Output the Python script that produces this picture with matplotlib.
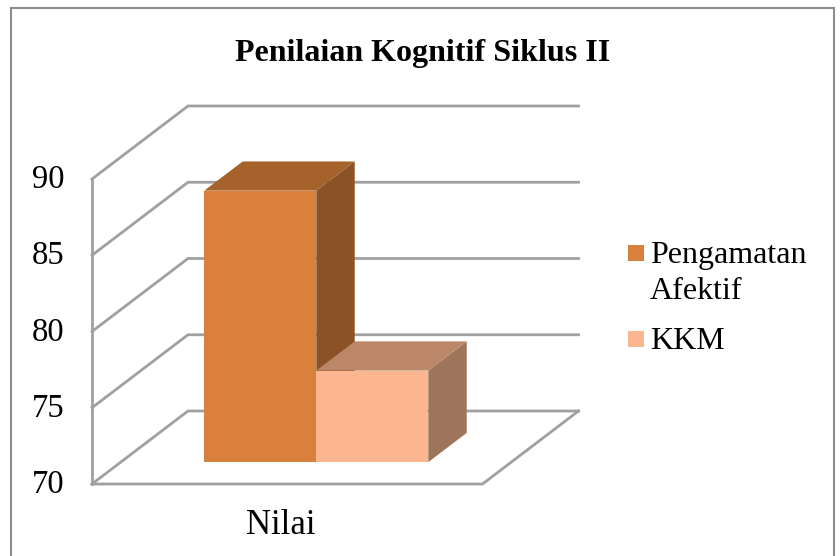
import matplotlib
matplotlib.use("Agg")
import matplotlib.pyplot as plt
from matplotlib.patches import Polygon, Rectangle

plt.rcParams['font.family'] = ['Liberation Serif', 'DejaVu Serif']

title = "Penilaian Kognitif Siklus II"
category = "Nilai"
series_names = ["Pengamatan\nAfektif", "KKM"]
series_values = [87.8, 76]
front_colors = ["#D9813C", "#FBB58F"]
top_colors = ["#A5622B", "#BC8669"]
side_colors = ["#8A5225", "#9E745A"]
y_ticks = [70, 75, 80, 85, 90]

W, H = 840, 556
fig = plt.figure(figsize=(W / 100, H / 100), dpi=100)
ax = fig.add_axes([0, 0, 1, 1])
ax.set_xlim(0, W)
ax.set_ylim(H, 0)
ax.axis("off")

X0, X1 = 92, 482.5    # front floor edge, pixels
Y70, PX_PER_UNIT = 484, 15.25
DX, DY = 96, -73      # full depth offset, pixels
GRID = "#A0A0A0"


def proj(frac, value, depth):
    """frac across the floor, value on the axis, depth 0..1 -> pixel."""
    x = X0 + frac * (X1 - X0) + depth * DX
    y = Y70 - (value - y_ticks[0]) * PX_PER_UNIT + depth * DY
    return x, y


# chart frame: left, top and right edges; the bottom edge is cropped off
ax.plot([10.5, 10.5, 834, 834], [H, 7.5, 7.5, H], color="#8C8C8C", lw=1.5,
        solid_joinstyle="miter", solid_capstyle="butt")

for v in y_ticks:
    ax.plot(*zip(proj(0, v, 0), proj(0, v, 1), proj(1, v, 1)), color=GRID, lw=2,
            solid_joinstyle="miter")
    ax.text(48, proj(0, v, 0)[1] + 1, str(v), ha="center", va="center", fontsize=23.5, color="black")

ax.plot(*zip(proj(0, y_ticks[0], 0), proj(0, y_ticks[-1], 0)), color=GRID, lw=2)
ax.plot(*zip(proj(0, y_ticks[0], 0), proj(1, y_ticks[0], 0), proj(1, y_ticks[0], 1)),
        color=GRID, lw=2, solid_joinstyle="miter")

BAR_W = 112 / (X1 - X0)
F0 = (175.5 - X0) / (X1 - X0)
D0, D1 = 0.30, 0.70
for i, v in enumerate(series_values):
    a, b = F0 + i * BAR_W, F0 + (i + 1) * BAR_W
    base = y_ticks[0]
    ax.add_patch(Polygon([proj(b, base, D0), proj(b, base, D1), proj(b, v, D1), proj(b, v, D0)],
                         fc=side_colors[i], ec="none", zorder=3 + i))
    ax.add_patch(Polygon([proj(a, v, D0), proj(a, v, D1), proj(b, v, D1), proj(b, v, D0)],
                         fc=top_colors[i], ec="none", zorder=3 + i))
    ax.add_patch(Polygon([proj(a, base, D0), proj(b, base, D0), proj(b, v, D0), proj(a, v, D0)],
                         fc=front_colors[i], ec="none", zorder=3 + i))

ax.text(422.5, 53, title, ha="center", va="center", fontsize=23, fontweight="bold")
ax.text(280.5, 525.5, category, ha="center", va="center", fontsize=25)

for (name, color, yc, ytxt) in zip(series_names, front_colors, [253, 339], [273.5, 341.5]):
    ax.add_patch(Rectangle((628, yc - 8), 16, 16, fc=color, ec="none"))
    ax.text(650, ytxt, name, ha="left", va="center", fontsize=23, linespacing=1.33)

fig.savefig("out.png", dpi=100)
